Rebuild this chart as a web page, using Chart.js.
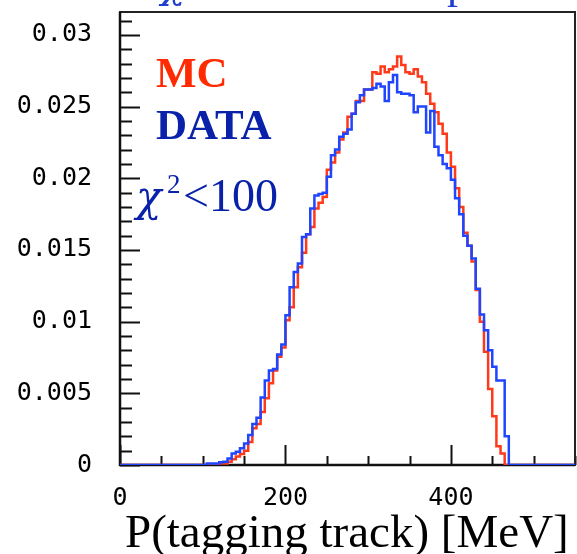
<!DOCTYPE html>
<html>
<head>
<meta charset="utf-8">
<script src="https://cdn.jsdelivr.net/npm/chart.js@4.4.1/dist/chart.umd.min.js"></script>
<style>
  html, body { margin: 0; padding: 0; background: #fff; }
  #wrap { width: 577px; height: 554px; position: relative; }
</style>
</head>
<body>
<div id="wrap"><canvas id="pChart"></canvas></div>
<script>
// bin lower edges (MeV), 5 MeV bins
const pBins = [100, 105, 110, 115, 120, 125, 130, 135, 140, 145, 150, 155, 160, 165, 170, 175, 180, 185, 190, 195,
  200, 205, 210, 215, 220, 225, 230, 235, 240, 245, 250, 255, 260, 265, 270, 275, 280, 285, 290, 295,
  300, 305, 310, 315, 320, 325, 330, 335, 340, 345, 350, 355, 360, 365, 370, 375, 380, 385, 390, 395,
  400, 405, 410, 415, 420, 425, 430, 435, 440, 445, 450, 455, 460, 465];
const binWidth = 5;

const dataValues = [0, 0.0001, 0.0001, 0.0001, 0.0002, 0.00023, 0.00046, 0.0008, 0.00093, 0.00116,
  0.0015, 0.0021, 0.00286, 0.0033, 0.0047, 0.0059, 0.0066, 0.0067, 0.0077, 0.0084,
  0.01045, 0.0124, 0.01347, 0.01405, 0.0159, 0.0161, 0.0179, 0.0188, 0.0189, 0.019,
  0.0201, 0.0216, 0.022, 0.0229, 0.0231, 0.0234, 0.0245, 0.0253, 0.0258, 0.0262,
  0.0262, 0.0263, 0.0266, 0.0264, 0.0254, 0.0267, 0.0272, 0.026, 0.0259, 0.0259,
  0.0258, 0.0246, 0.025, 0.025, 0.0232, 0.0247, 0.0222, 0.0216, 0.021, 0.0207,
  0.0199, 0.0186, 0.0175, 0.016, 0.0153, 0.0144, 0.0123, 0.0105, 0.0094, 0.008,
  0.00685, 0.0059, 0.0059, 0.002];

const mcValues = [0, 0, 0, 0.00005, 0.0001, 0.0001, 0.00023, 0.0004, 0.0006, 0.00077,
  0.001, 0.0016, 0.00256, 0.00286, 0.0037, 0.00465, 0.0057, 0.0066, 0.00755, 0.0082,
  0.0101, 0.011, 0.0124, 0.0138, 0.0148, 0.0161, 0.0166, 0.0179, 0.0183, 0.0187,
  0.0206, 0.0211, 0.0218, 0.0227, 0.0232, 0.0243, 0.0245, 0.0254, 0.0254, 0.0262,
  0.0262, 0.0274, 0.0273, 0.0278, 0.0274, 0.0276, 0.0278, 0.0285, 0.0279, 0.0274,
  0.0273, 0.0276, 0.0271, 0.0267, 0.0259, 0.0252, 0.0246, 0.0238, 0.0231, 0.0218,
  0.0208, 0.0193, 0.018, 0.0162, 0.0153, 0.0142, 0.0122, 0.01, 0.0079, 0.0053,
  0.0034, 0.0013, 0.0008, 0];

const xTickValues = [0, 200, 400];
const yTickValues = [0, 0.005, 0.01, 0.015, 0.02, 0.025, 0.03];
const yTickLabels = ["0", "0.005", "0.01", "0.015", "0.02", "0.025", "0.03"];

const X_MAX = 550;
const Y_MAX = 0.0316;

// step histogram points: value holds from lower edge to next edge
const toSteps = (values) => {
  const pts = [{ x: 0, y: 0 }];
  pBins.forEach((b, i) => pts.push({ x: b, y: values[i] }));
  pts.push({ x: pBins[pBins.length - 1] + binWidth, y: 0 });
  pts.push({ x: X_MAX, y: 0 });
  return pts;
};

// frame + inward ticks like the PAW plot
const framePlugin = {
  id: "frame",
  beforeDatasetsDraw(chart) {
    const { ctx, chartArea: a, scales } = chart;
    ctx.save();
    ctx.strokeStyle = "#111";
    ctx.lineWidth = 2;
    ctx.beginPath();
    for (let k = 0; k <= 31; k++) {
      const y = Math.round(scales.y.getPixelForValue(k * 0.001)) + 0.5;
      const len = k % 5 === 0 ? 20 : 12;
      ctx.moveTo(a.left, y);
      ctx.lineTo(a.left + len, y);
    }
    for (let k = 0; k <= 11; k++) {
      const x = Math.round(scales.x.getPixelForValue(k * 50)) + 0.5;
      const len = (k * 50) % 200 === 0 ? 20 : 9;
      ctx.moveTo(x, a.bottom);
      ctx.lineTo(x, a.bottom - len);
    }
    ctx.stroke();
    ctx.lineWidth = 2;
    ctx.strokeStyle = "#222";
    ctx.strokeRect(a.left, a.top, a.right - a.left, a.bottom - a.top);
    ctx.lineWidth = 2.5;
    ctx.strokeStyle = "#111";
    ctx.beginPath();
    ctx.moveTo(a.left, a.top);
    ctx.lineTo(a.left, a.bottom);
    ctx.lineTo(a.right, a.bottom);
    ctx.stroke();
    ctx.restore();
  },
  afterDraw(chart) {
    const { ctx } = chart;
    ctx.save();
    ctx.textBaseline = "alphabetic";
    ctx.textAlign = "left";
    // cut-off title at the very top
    ctx.fillStyle = "#1f3fcf";
    ctx.font = 'italic 40px "DejaVu Serif"';
    ctx.fillText("χ", 161, -2);
    ctx.font = '44px "Liberation Serif"';
    ctx.fillText("² cut on tracks p", 187, -2);
    // legend-like labels
    ctx.font = 'bold 43px "Liberation Serif"';
    ctx.fillStyle = "#ff2a00";
    ctx.fillText("MC", 156, 87);
    ctx.fillStyle = "#0a22aa";
    ctx.fillText("DATA", 156, 139);
    ctx.font = 'italic 42px "DejaVu Serif"';
    ctx.fillText("χ", 136, 211);
    ctx.font = '27px "Liberation Serif"';
    ctx.fillText("2", 167, 193);
    ctx.font = '46px "Liberation Serif"';
    ctx.fillText("<100", 183, 211);
    // axis title
    ctx.fillStyle = "#000";
    ctx.font = '47px "Liberation Serif"';
    ctx.fillText("P(tagging track) [MeV]", 125, 547);
    ctx.restore();
  },
};

const ctx = document.getElementById("pChart");

const pChart = new Chart(ctx, {
  type: "line",
  data: {
    datasets: [
      {
        label: "DATA",
        data: toSteps(dataValues),
        borderColor: "#1f45ff",
        borderWidth: 2.5,
        stepped: "before",
        pointRadius: 0,
        fill: false,
        order: 0,
      },
      {
        label: "MC",
        data: toSteps(mcValues),
        borderColor: "#ff3a1a",
        borderWidth: 2.5,
        stepped: "before",
        pointRadius: 0,
        fill: false,
        order: 1,
      },
    ],
  },
  options: {
    responsive: true,
    maintainAspectRatio: false,
    animation: false,
    layout: { padding: { top: 12, right: 2, left: 0, bottom: 0 } },
    plugins: { legend: { display: false }, tooltip: { enabled: false } },
    scales: {
      x: {
        type: "linear",
        min: 0,
        max: X_MAX,
        grid: { display: false, drawTicks: false },
        border: { display: false },
        afterBuildTicks: (s) => { s.ticks = xTickValues.map((v) => ({ value: v })); },
        afterFit: (s) => { s.height = 89; s.paddingLeft = 0; s.paddingRight = 0; },
        ticks: {
          padding: 18,
          maxRotation: 0,
          color: "#000",
          font: { family: "DejaVu Sans Mono", size: 25 },
          callback: (v) => String(v),
        },
      },
      y: {
        type: "linear",
        min: 0,
        max: Y_MAX,
        grid: { display: false, drawTicks: false },
        border: { display: false },
        afterBuildTicks: (s) => { s.ticks = yTickValues.map((v) => ({ value: v })); },
        afterFit: (s) => { s.width = 120; s.paddingTop = 0; s.paddingBottom = 0; },
        ticks: {
          padding: 28,
          color: "#000",
          font: { family: "DejaVu Sans Mono", size: 25 },
          callback: (v) => yTickLabels[yTickValues.indexOf(v)],
        },
      },
    },
  },
  plugins: [framePlugin],
});
</script>
</body>
</html>
